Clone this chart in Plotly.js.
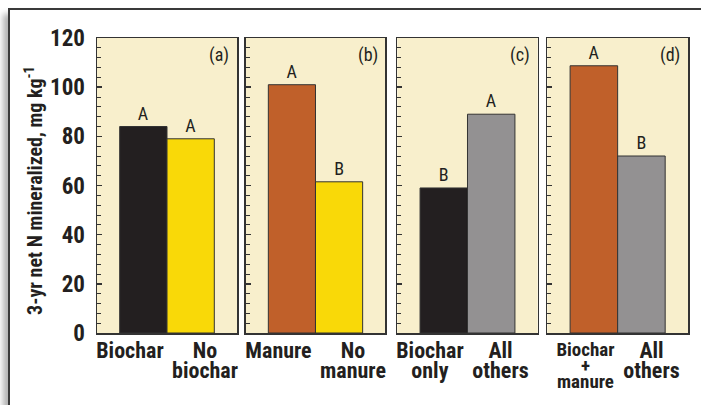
<!DOCTYPE html>
<html>
<head>
<meta charset="utf-8">
<script src="https://cdn.plot.ly/plotly-3.0.1.min.js"></script>
<style>
  body { margin: 0; background: #ffffff; overflow: hidden; }
  #frame {
    position: absolute; left: 8px; top: 8px; width: 720px; height: 420px;
    border-top: 2px solid #3a3a3a; border-left: 2px solid #3a3a3a;
    box-shadow: -5px 6px 6px rgba(0,0,0,0.3);
  }
  #myDiv { position: absolute; left: 0; top: 0; width: 701px; height: 405px; }
</style>
</head>
<body>
<div id="frame"></div>
<div id="myDiv"></div>
<script>
// panel data, left to right
var panelTags = ["(a)", "(b)", "(c)", "(d)"];

var catsA = ["Biochar", "No<br>biochar"];
var valsA = [84, 79];
var letA = ["A", "A"];
var colA = ["#231f20", "#f9d908"];

var catsB = ["Manure", "No<br>manure"];
var valsB = [101, 61.5];
var letB = ["A", "B"];
var colB = ["#c0602a", "#f9d908"];

var catsC = ["Biochar<br>only", "All<br>others"];
var valsC = [59, 89];
var letC = ["B", "A"];
var colC = ["#231f20", "#939192"];

var catsD = ["Biochar<br>+<br>manure", "All<br>others"];
var valsD = [108.7, 72];
var letD = ["A", "B"];
var colD = ["#c0602a", "#939192"];

var yTitle = "3-yr net N mineralized, mg kg<sup>-1</sup>";

// pick the narrowest installed condensed face
var cv = document.createElement("canvas").getContext("2d");
function hasFont(name) {
  var probe = "Biochar manure 0123456789";
  var found = false;
  ["monospace", "serif"].forEach(function (base) {
    cv.font = "bold 40px " + base;
    var w0 = cv.measureText(probe).width;
    cv.font = "bold 40px '" + name + "', " + base;
    if (cv.measureText(probe).width !== w0) found = true;
  });
  return found;
}
var FACE = ["Roboto Condensed", "Liberation Sans Narrow", "Arial Narrow", "Noto Sans Condensed",
  "DejaVu Sans Condensed"].filter(hasFont)[0] || "DejaVu Sans";
var FONT = "'" + FACE + "', sans-serif";
function textW(s, size) {
  cv.font = "bold " + size + "px " + FONT;
  return cv.measureText(s).width;
}

var INK = "#231f20";
var CREAM = "#f8efcc";

var groups = [
  [catsA, valsA, letA, colA],
  [catsB, valsB, letB, colB],
  [catsC, valsC, letC, colC],
  [catsD, valsD, letD, colD],
];
var domains = [[0, 0.2369], [0.2516, 0.4878], [0.5081, 0.7457], [0.7619, 1]];

var data = [];
var shapes = [];
var annotations = [];
var layout = {
  width: 701,
  height: 405,
  margin: { l: 97, r: 13, t: 38, b: 72 },
  paper_bgcolor: "rgba(0,0,0,0)",
  plot_bgcolor: "rgba(0,0,0,0)",
  showlegend: false,
  font: { family: FONT, color: INK },
};

groups.forEach(function (g, i) {
  var n = i + 1;
  var xa = n === 1 ? "x" : "x" + n;
  var ya = n === 1 ? "y" : "y" + n;
  data.push({
    type: "bar",
    x: g[0],
    y: g[1],
    text: g[2],
    textposition: "outside",
    textfont: { size: 18, color: INK, family: FONT },
    cliponaxis: false,
    width: [1, 1],
    marker: { color: g[3], line: { color: "#333333", width: 1 } },
    xaxis: xa,
    yaxis: ya,
    hoverinfo: "skip",
  });

  layout["xaxis" + (n === 1 ? "" : n)] = {
    domain: domains[i],
    anchor: ya,
    type: "category",
    range: [-0.98, 1.98],
    showticklabels: false,
    ticks: "",
    showgrid: false,
    zeroline: false,
    showline: true,
    mirror: true,
    linecolor: "#333333",
    linewidth: 1.5,
    fixedrange: true,
  };
  layout["yaxis" + (n === 1 ? "" : n)] = {
    anchor: xa,
    range: [0, 120],
    dtick: 20,
    ticks: "inside",
    ticklen: 5,
    tickwidth: 1.5,
    tickcolor: "#333333",
    minor: { dtick: 4, ticks: "inside", ticklen: 4, tickwidth: 1, tickcolor: "#333333" },
    showticklabels: n === 1,
    tickfont: { size: 23, family: FONT, weight: "bold", color: INK },
    ticklabelstandoff: 6,
    showgrid: false,
    zeroline: false,
    showline: true,
    mirror: true,
    linecolor: "#333333",
    linewidth: 1.5,
    fixedrange: true,
  };

  shapes.push({
    type: "rect", layer: "below",
    xref: xa + " domain", yref: ya + " domain",
    x0: 0, x1: 1, y0: 0, y1: 1,
    fillcolor: CREAM, line: { width: 0 },
  });

  annotations.push({
    xref: xa + " domain", yref: ya + " domain",
    x: 0.96, y: 0.985, xanchor: "right", yanchor: "top",
    text: panelTags[i], showarrow: false,
    font: { size: 18, family: FONT, color: INK },
  });

  // category labels: one annotation per line (tight leading), each line
  // centred in a common box that hugs the boundary between the two bars
  g[0].forEach(function (label, k) {
    var lines = label.split("<br>");
    var small = lines.length > 2;
    var size = small ? 19 : 22;
    var pitch = small ? 16 : 20;
    var boxW = Math.ceil(Math.max.apply(null, lines.map(function (s) { return textW(s, size); }))) + 2;
    lines.forEach(function (ln, j) {
      annotations.push({
        xref: xa, yref: "paper",
        x: 0.5, y: 0,
        xanchor: k === 0 ? "right" : "left",
        yanchor: "top",
        xshift: k === 0 ? 0 : 2,
        yshift: -3 - j * pitch,
        width: boxW,
        align: "center",
        text: ln, showarrow: false,
        font: { size: size, family: FONT, weight: "bold", color: INK },
      });
    });
  });
});

annotations.push({
  xref: "paper", yref: "paper",
  x: -0.1066, y: 0.485, xanchor: "center", yanchor: "middle",
  textangle: -90, text: yTitle, showarrow: false,
  font: { size: 20, family: FONT, weight: "bold", color: INK },
});

layout.shapes = shapes;
layout.annotations = annotations;

Plotly.newPlot("myDiv", data, layout, { displayModeBar: false, staticPlot: true });
</script>
</body>
</html>
